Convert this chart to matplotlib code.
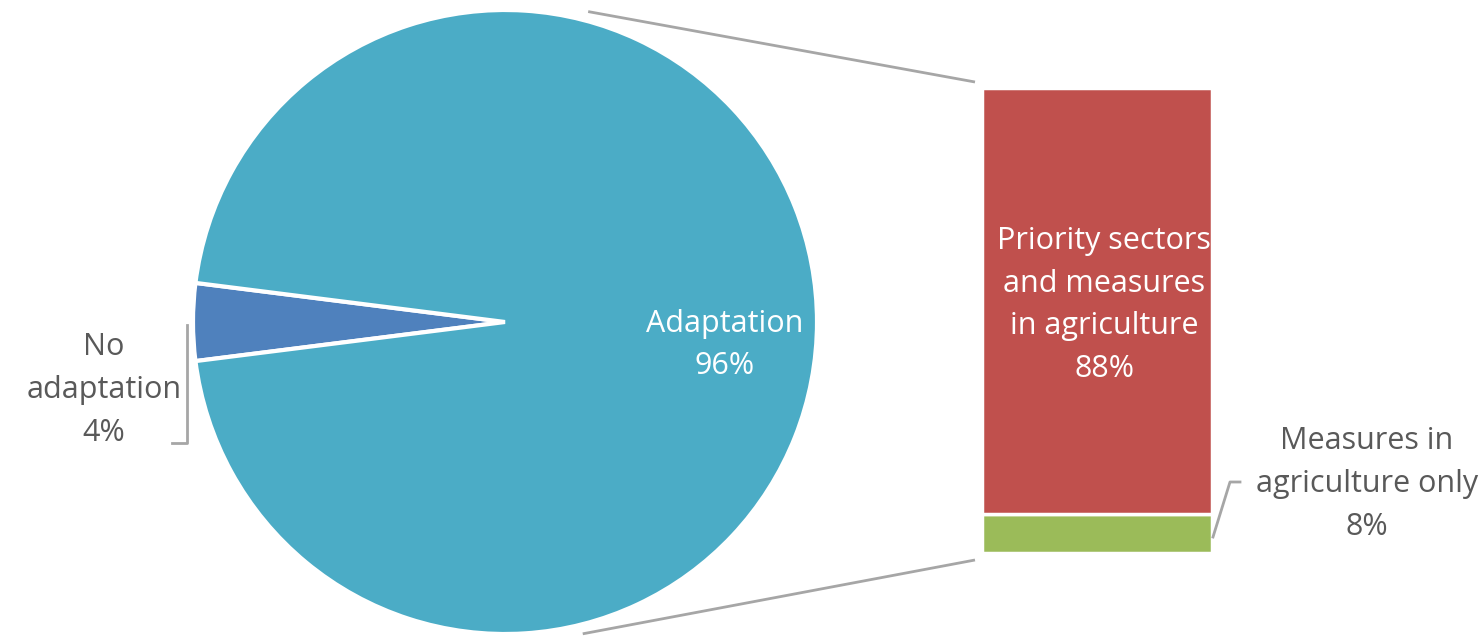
import numpy as np
import matplotlib.pyplot as plt

plt.rcParams['font.family'] = ['Open Sans', 'DejaVu Sans']

# pie: share of plans with / without adaptation
pie_labels = ["No\nadaptation", "Adaptation"]
pie_values = [4, 96]
pie_colors = ["#4F81BD", "#4BACC6"]

# bar: breakdown of the "Adaptation" share
bar_labels = ["Measures in\nagriculture only", "Priority sectors\nand measures\nin agriculture"]
bar_values = [8, 88]
bar_colors = ["#9BBB59", "#C0504D"]

W, H = 1483, 636
fig = plt.figure(figsize=(W / 100, H / 100), dpi=100)
ax = fig.add_axes([0, 0, 1, 1])

# pie, small slice pointing left
cx, cy, r = 505, 314, 312
start = 180 - pie_values[0] / sum(pie_values) * 360 / 2
ax.pie(pie_values, colors=pie_colors, startangle=start, center=(cx, cy), radius=r,
       wedgeprops=dict(edgecolor='white', linewidth=3), frame=True)
ax.set_xlim(0, W)
ax.set_ylim(0, H)
ax.set_aspect('equal')
ax.axis('off')

# stacked bar, scaled so the whole column stands for the Adaptation share
bx, bw = 982, 230
bar_bottom, bar_top = 83, 548
scale = (bar_top - bar_bottom) / sum(bar_values)
bottoms = np.concatenate([[0], np.cumsum(bar_values)[:-1]]) * scale + bar_bottom
ax.bar(bx + bw / 2, np.array(bar_values) * scale, width=bw, bottom=bottoms,
       color=bar_colors, edgecolor='white', linewidth=2.5)

# connector lines from the pie to the bar
gray = "#A6A6A6"
for ang, yb in [(75, bar_top + 6), (-76, bar_bottom - 7)]:
    a = np.radians(ang)
    ax.plot([cx + r * 1.03 * np.cos(a), bx - 7], [cy + r * 1.03 * np.sin(a), yb],
            color=gray, lw=2, solid_capstyle='butt')

txt = "#595959"
fs = 22
ls = 1.55

# inside labels
ax.text(725, 291, f"{pie_labels[1]}\n{pie_values[1]}%", color='white', fontsize=fs,
        ha='center', va='center', linespacing=ls)
ax.text(1104, 331, f"{bar_labels[1]}\n{bar_values[1]}%", color='white', fontsize=fs,
        ha='center', va='center', linespacing=ls)

# outside labels with leader lines
ax.text(104, 246, f"{pie_labels[0]}\n{pie_values[0]}%", color=txt, fontsize=fs,
        ha='center', va='center', linespacing=ls)
ax.plot([187, 187, 172], [311, 193, 193], color=gray, lw=2)

ax.text(1367, 152, f"{bar_labels[0]}\n{bar_values[0]}%", color=txt, fontsize=fs,
        ha='center', va='center', linespacing=ls)
ax.plot([1213, 1230, 1240], [99, 154, 154], color=gray, lw=2)

fig.savefig("out.png", dpi=100)
